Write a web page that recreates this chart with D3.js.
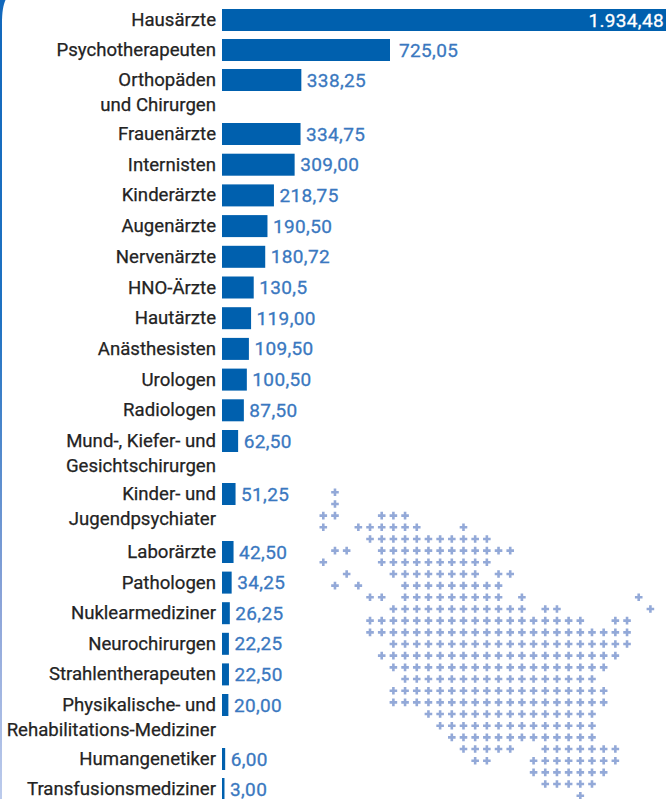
<!DOCTYPE html>
<html><head><meta charset="utf-8">
<style>html,body{margin:0;padding:0;background:#fff}svg{display:block}text{font-family:Roboto,sans-serif}</style>
<script src="https://cdn.jsdelivr.net/npm/d3@7/dist/d3.min.js"></script></head>
<body><svg id="c" width="666" height="799"></svg>
<script>
const categories = [["Hausärzte"],["Psychotherapeuten"],["Orthopäden","und Chirurgen"],["Frauenärzte"],["Internisten"],["Kinderärzte"],["Augenärzte"],["Nervenärzte"],["HNO-Ärzte"],["Hautärzte"],["Anästhesisten"],["Urologen"],["Radiologen"],["Mund-, Kiefer- und","Gesichtschirurgen"],["Kinder- und","Jugendpsychiater"],["Laborärzte"],["Pathologen"],["Nuklearmediziner"],["Neurochirurgen"],["Strahlentherapeuten"],["Physikalische- und","Rehabilitations-Mediziner"],["Humangenetiker"],["Transfusionsmediziner"]];
const values = [1934.48,725.05,338.25,334.75,309,218.75,190.5,180.72,130.5,119,109.5,100.5,87.5,62.5,51.25,42.5,34.25,26.25,22.25,22.5,20,6,3];
const valueLabels = ["1.934,48","725,05","338,25","334,75","309,00","218,75","190,50","180,72","130,5","119,00","109,50","100,50","87,50","62,50","51,25","42,50","34,25","26,25","22,25","22,50","20,00","6,00","3,00"];
// map of dots: [row, firstColumn, lastColumn]
const mapRuns = [[0,1,1],[1,1,1],[2,0,1],[2,5,7],[3,0,0],[3,3,8],[3,12,12],[4,4,14],[5,1,2],[5,5,16],[6,0,0],[6,5,14],[7,2,2],[7,6,13],[7,15,16],[8,1,1],[8,3,3],[8,7,15],[9,4,5],[9,7,15],[9,17,17],[9,27,27],[10,6,17],[10,19,20],[10,28,28],[11,4,22],[11,25,26],[12,4,26],[13,6,26],[14,5,25],[15,6,24],[16,7,23],[17,6,24],[18,6,24],[19,9,23],[20,10,23],[21,11,23],[22,12,16],[22,19,25],[23,13,14],[23,18,25],[24,18,24],[25,19,23],[26,22,22]];

const svg = d3.select("#c");
const W=666,H=799, x0=222;
const y = d3.scaleLinear().domain([0,2,3,13,14,15,20,21,22]).range([20,80,134,441,494,552,705,759,789]);
const x = d3.scaleLinear().domain([0,725.05]).range([223.8,390]);
const cx = d3.scaleLinear().domain([0,28]).range([323.3,650.4]);
const cy = d3.scaleLinear().domain([0,26]).range([492.3,795.7]);

// frame
const grad = svg.append("defs").append("linearGradient").attr("id","edge").attr("x1",0).attr("y1",0).attr("x2",0).attr("y2",1);
[[0,"#1268bc"],[0.4,"#1f72c2"],[0.75,"#8aa3d8"],[1,"#bccbec"]].forEach(([o,c])=>grad.append("stop").attr("offset",o).attr("stop-color",c));
svg.append("path").attr("d","M0,0H5.5C3.2,5 2,12 2,24V799H0Z").attr("fill","url(#edge)");

// map
const plus = "M-1.3,-3.8H1.3V-1.3H3.8V1.3H1.3V3.8H-1.3V1.3H-3.8V-1.3H-1.3Z";
const dots = mapRuns.flatMap(([r,a,b])=>d3.range(a,b+1).map(c=>[r,c]));
svg.append("g").selectAll("path").data(dots).join("path").attr("d",plus).attr("fill","#93a9d8")
  .attr("transform",d=>`translate(${cx(d[1])},${cy(d[0])})`);

// bars
svg.append("g").selectAll("rect").data(values).join("rect")
  .attr("x",x0).attr("y",(d,i)=>y(i)-11).attr("height",22)
  .attr("width",d=>Math.min(W,x(d))-x0).attr("fill","#0060ae");

// category labels
const g = svg.append("g").attr("font-size",18.6).attr("fill","#232323").attr("stroke","#232323").attr("stroke-width",0.25).attr("text-anchor","end");
categories.forEach((c,i)=>c.forEach((t,j)=>{
  g.append("text").attr("x",216).attr("y",y(i)+j*24.5+6).text(t);
}));

// value labels
svg.append("g").attr("font-size",19).attr("letter-spacing",0.35).attr("stroke-width",0.3).selectAll("text").data(valueLabels).join("text")
  .attr("x",(d,i)=>i==0?664:x(values[i])+(i==1?9:5.5))
  .attr("y",(d,i)=>y(i)+6.5)
  .attr("text-anchor",(d,i)=>i==0?"end":"start")
  .attr("fill",(d,i)=>i==0?"#fff":"#3a78c0")
  .attr("stroke",(d,i)=>i==0?"#fff":"#3a78c0")
  .text(d=>d);
</script></body></html>
